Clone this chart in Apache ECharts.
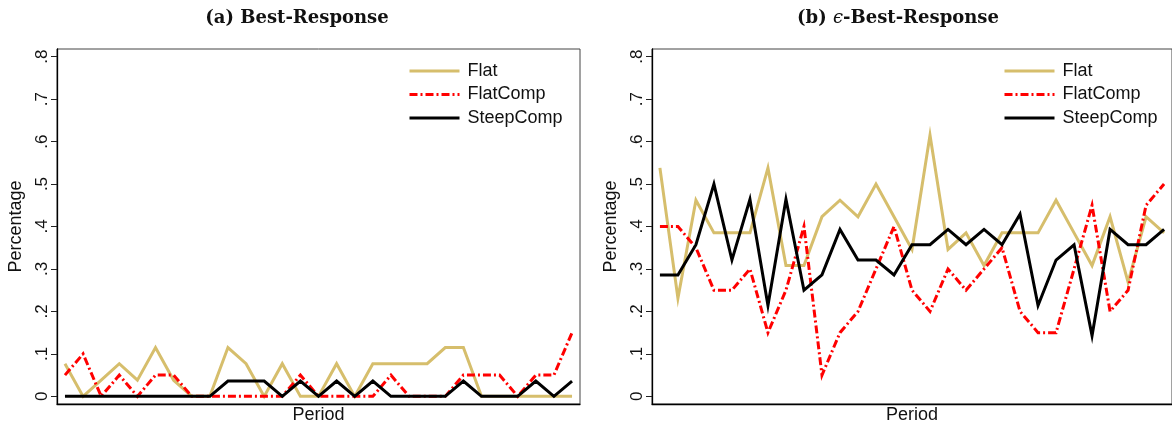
<!DOCTYPE html>
<html>
<head>
<meta charset="utf-8">
<script src="https://cdn.jsdelivr.net/npm/echarts@6/dist/echarts.min.js"></script>
<style>
  html, body { margin: 0; padding: 0; background: #fff; }
  #chart { width: 1172px; height: 429px; }
</style>
</head>
<body>
<div id="chart"></div>
<script>
// Periods shown on the horizontal axis
const periods = [1, 2, 3, 4, 5, 6, 7, 8, 9, 10, 11, 12, 13, 14, 15, 16, 17, 18, 19, 20, 21, 22, 23, 24, 25, 26, 27, 28, 29];

// Tick values on the percentage axis
const yTicks = [0, 0.1, 0.2, 0.3, 0.4, 0.5, 0.6, 0.7, 0.8];

const seriesNames = ['Flat', 'FlatComp', 'SteepComp'];

// (a) Best-Response
const brFlat      = [0.077, 0, 0.038, 0.077, 0.038, 0.115, 0.038, 0, 0, 0.115, 0.077, 0, 0.077, 0, 0, 0.077, 0, 0.077, 0.077, 0.077, 0.077, 0.115, 0.115, 0, 0, 0, 0, 0, 0];
const brFlatComp  = [0.05, 0.1, 0, 0.05, 0, 0.05, 0.05, 0, 0, 0, 0, 0, 0, 0.05, 0, 0, 0, 0, 0.05, 0, 0, 0, 0.05, 0.05, 0.05, 0, 0.05, 0.05, 0.15];
const brSteepComp = [0, 0, 0, 0, 0, 0, 0, 0, 0, 0.036, 0.036, 0.036, 0, 0.036, 0, 0.036, 0, 0.036, 0, 0, 0, 0, 0.036, 0, 0, 0, 0.036, 0, 0.036];

// (b) epsilon-Best-Response
const ebrFlat      = [0.538, 0.231, 0.462, 0.385, 0.385, 0.385, 0.538, 0.308, 0.308, 0.423, 0.462, 0.423, 0.5, 0.423, 0.346, 0.615, 0.346, 0.385, 0.308, 0.385, 0.385, 0.385, 0.462, 0.385, 0.308, 0.423, 0.269, 0.423, 0.385];
const ebrFlatComp  = [0.4, 0.4, 0.35, 0.25, 0.25, 0.3, 0.15, 0.25, 0.4, 0.05, 0.15, 0.2, 0.3, 0.4, 0.25, 0.2, 0.3, 0.25, 0.3, 0.35, 0.2, 0.15, 0.15, 0.3, 0.45, 0.2, 0.25, 0.45, 0.5];
const ebrSteepComp = [0.286, 0.286, 0.357, 0.5, 0.321, 0.464, 0.214, 0.464, 0.25, 0.286, 0.393, 0.321, 0.321, 0.286, 0.357, 0.357, 0.393, 0.357, 0.393, 0.357, 0.429, 0.214, 0.321, 0.357, 0.143, 0.393, 0.357, 0.357, 0.393];

const panels = [
  [brFlat, brFlatComp, brSteepComp],
  [ebrFlat, ebrFlatComp, ebrSteepComp]
];

const lineColors = ['#D6BE6C', '#FF0000', '#000000'];
const lineTypes = ['solid', [8, 3, 2, 3], 'solid'];

const SANS = 'Liberation Sans, Arial, Helvetica, sans-serif';
const SERIF = 'DejaVu Serif, serif';

const gridLefts = [57, 652];
const legendLefts = [408, 1003];

function tickLabel(v) {
  return v === 0 ? '0' : String(v).replace(/^0/, '');
}

const grids = gridLefts.map(l => ({
  left: l, top: 49, width: 523, height: 357,
  show: true, borderColor: '#444', borderWidth: 1, backgroundColor: '#fff'
}));

const xAxes = gridLefts.map((_, i) => ({
  type: 'value', gridIndex: i, min: 0.56, max: 29.44,
  axisLine: { show: true, onZero: false, lineStyle: { color: '#000', width: 1.3 } },
  axisTick: { show: false },
  axisLabel: { show: false },
  splitLine: { show: false },
  name: 'Period', nameLocation: 'middle', nameGap: 2,
  nameTextStyle: { fontFamily: SANS, fontSize: 18, color: '#111', verticalAlign: 'top' }
}));

const yAxes = gridLefts.map((_, i) => ({
  type: 'value', gridIndex: i, min: -0.018, max: 0.818,
  axisLine: { show: true, onZero: false, lineStyle: { color: '#000', width: 1.3 } },
  axisTick: { show: true, length: 6, customValues: yTicks, lineStyle: { color: '#222' } },
  axisLabel: {
    customValues: yTicks, rotate: 90, margin: 6, formatter: tickLabel,
    fontFamily: SANS, fontSize: 17, color: '#111'
  },
  splitLine: { show: false },
  name: 'Percentage', nameLocation: 'middle', nameRotate: 90, nameGap: 32,
  nameTextStyle: { fontFamily: SANS, fontSize: 18, color: '#111' }
}));

const series = [];
panels.forEach((vals, i) => {
  vals.forEach((arr, k) => {
    series.push({
      type: 'line', name: seriesNames[k],
      xAxisIndex: i, yAxisIndex: i,
      data: periods.map((p, j) => [p, arr[j]]),
      symbol: 'none', showSymbol: false,
      lineStyle: { color: lineColors[k], width: 3, type: lineTypes[k], join: 'miter' },
      itemStyle: { color: lineColors[k] },
      z: 2 + k
    });
  });
});

// Legend keys are plain line samples (no marker)
const legends = legendLefts.map(l => ({
  orient: 'vertical', left: l, top: 62, padding: 0,
  itemWidth: 50, itemHeight: 14, itemGap: 5.5,
  data: seriesNames,
  itemStyle: { opacity: 0 },
  lineStyle: { width: 3 },
  textStyle: { fontFamily: SANS, fontSize: 18, color: '#111', lineHeight: 18, padding: [0, 0, 0, 3] }
}));

const titleStyle = { fontFamily: SERIF, fontSize: 18, fontWeight: 'bold', color: '#111' };
const titles = [
  { text: '(a) Best-Response', left: 297, top: 9, padding: 0, textAlign: 'center', textStyle: titleStyle },
  {
    text: '(b) {e|\u03F5}-Best-Response', left: 898, top: 9, padding: 0, textAlign: 'center',
    textStyle: Object.assign({}, titleStyle, {
      rich: { e: { fontFamily: SERIF, fontSize: 18, fontStyle: 'italic', fontWeight: 'normal', color: '#111' } }
    })
  }
];

const chart = echarts.init(document.getElementById('chart'), null, { renderer: 'canvas' });
chart.setOption({
  animation: false,
  backgroundColor: '#fff',
  title: titles,
  grid: grids,
  xAxis: xAxes,
  yAxis: yAxes,
  legend: legends,
  series: series
});
</script>
</body>
</html>
